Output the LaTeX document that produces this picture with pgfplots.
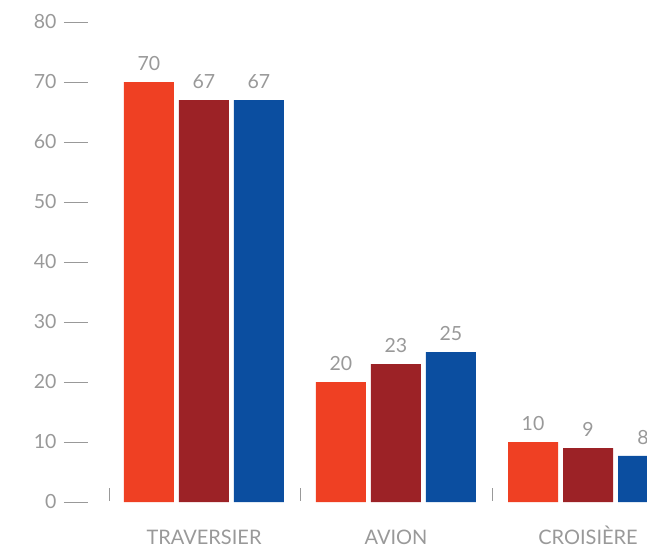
\documentclass[border=0pt]{standalone}
\usepackage{fontspec}
\setmainfont{Lato}
\usepackage{pgfplots}
\pgfplotsset{compat=1.18}
\definecolor{cA}{HTML}{EF4023}
\definecolor{cB}{HTML}{9C2226}
\definecolor{cC}{HTML}{0B4EA0}
\definecolor{gr}{HTML}{999999}
\begin{document}
\begin{tikzpicture}
\useasboundingbox (0pt,0pt) rectangle (647pt,547pt);
\clip (0pt,0pt) rectangle (647pt,547pt);
\begin{axis}[
  at={(88pt,45pt)}, anchor=south west,
  scale only axis, width=596pt, height=480pt,
  xmin=-0.604, xmax=2.5, ymin=0, ymax=80,
  axis line style={draw=none},
  clip=false,
  ybar, bar width=50pt,
  ytick={0,10,...,80},
  tick align=outside,
  major tick length=24pt,
  y tick style={draw=gr, line width=0.9pt},
  yticklabel style={font=\fontsize{19.5}{19.5}\selectfont, text=gr, xshift=-4pt},
  /pgf/number format/assume math mode=true,
  xtick={0,1,2},
  xticklabels={TRAVERSIER,AVION,CROISIÈRE},
  x tick style={draw=none},
  xticklabel style={font=\fontsize{20}{20}\selectfont, text=gr, anchor=base, yshift=-18pt},
  nodes near coords,
  every node near coord/.append style={font=\fontsize{19.5}{19.5}\selectfont, text=gr, yshift=8pt},
]
\addplot[fill=cA, draw=none, bar shift=-55pt] coordinates {(0,70) (1,20) (2,10)};
\addplot[fill=cB, draw=none, bar shift=0pt] coordinates {(0,67) (1,23) (2,9)};
\addplot[fill=cC, draw=none, bar shift=55pt, point meta=explicit symbolic] coordinates {(0,67) [67] (1,25) [25] (2,7.7) [8]};
\draw[gr, line width=0.9pt] ([yshift=1.5pt]axis cs:-0.49,0) -- ([yshift=14pt]axis cs:-0.49,0);
\draw[gr, line width=0.9pt] ([yshift=1.5pt]axis cs:0.5,0) -- ([yshift=14pt]axis cs:0.5,0);
\draw[gr, line width=0.9pt] ([yshift=1.5pt]axis cs:1.5,0) -- ([yshift=14pt]axis cs:1.5,0);
\end{axis}
\end{tikzpicture}
\end{document}
